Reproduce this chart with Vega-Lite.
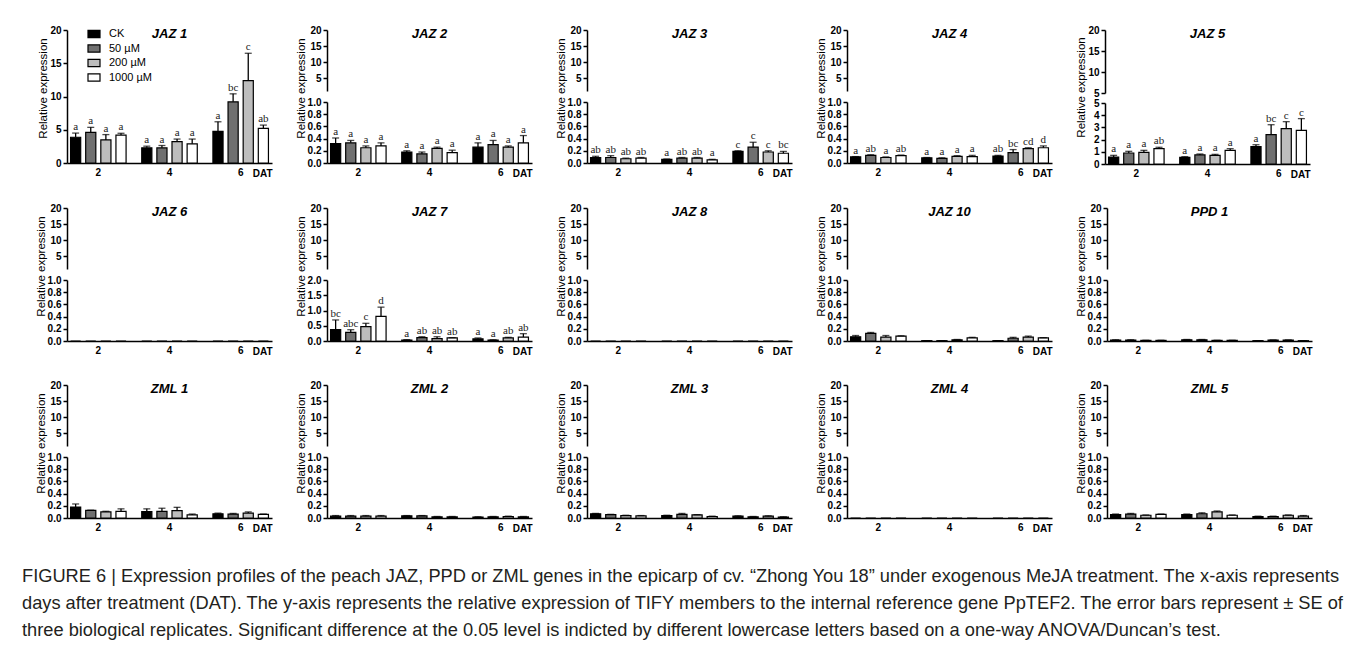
{
"$schema": "https://vega.github.io/schema/vega-lite/v6.json",
"background": "white",
"padding": {"left": 22, "top": 25, "right": 5, "bottom": 5},
"datasets": {"expr": [
{"g":"JAZ1","d":"2","t":"CK","m":3.87,"h":4.5,"l":"a"},{"g":"JAZ1","d":"2","t":"50 µM","m":4.6,"h":5.36,"l":"a"},{"g":"JAZ1","d":"2","t":"200 µM","m":3.47,"h":4.27,"l":"a"},{"g":"JAZ1","d":"2","t":"1000 µM","m":4.2,"h":4.47,"l":"a"},
{"g":"JAZ1","d":"4","t":"CK","m":2.28,"h":2.53,"l":"a"},{"g":"JAZ1","d":"4","t":"50 µM","m":2.28,"h":2.63,"l":"a"},{"g":"JAZ1","d":"4","t":"200 µM","m":3.2,"h":3.6,"l":"a"},{"g":"JAZ1","d":"4","t":"1000 µM","m":2.88,"h":3.6,"l":"a"},
{"g":"JAZ1","d":"6","t":"CK","m":4.76,"h":6.2,"l":"a"},{"g":"JAZ1","d":"6","t":"50 µM","m":9.2,"h":10.4,"l":"bc"},{"g":"JAZ1","d":"6","t":"200 µM","m":12.4,"h":16.5,"l":"c"},{"g":"JAZ1","d":"6","t":"1000 µM","m":5.2,"h":5.7,"l":"ab"},
{"g":"JAZ2","d":"2","t":"CK","m":0.32,"h":0.41,"l":"a"},{"g":"JAZ2","d":"2","t":"50 µM","m":0.33,"h":0.37,"l":"a"},{"g":"JAZ2","d":"2","t":"200 µM","m":0.25,"h":0.28,"l":"a"},{"g":"JAZ2","d":"2","t":"1000 µM","m":0.28,"h":0.33,"l":"a"},
{"g":"JAZ2","d":"4","t":"CK","m":0.18,"h":0.2,"l":"a"},{"g":"JAZ2","d":"4","t":"50 µM","m":0.15,"h":0.18,"l":"a"},{"g":"JAZ2","d":"4","t":"200 µM","m":0.24,"h":0.26,"l":"a"},{"g":"JAZ2","d":"4","t":"1000 µM","m":0.17,"h":0.21,"l":"a"},
{"g":"JAZ2","d":"6","t":"CK","m":0.26,"h":0.33,"l":"a"},{"g":"JAZ2","d":"6","t":"50 µM","m":0.3,"h":0.37,"l":"a"},{"g":"JAZ2","d":"6","t":"200 µM","m":0.26,"h":0.28,"l":"a"},{"g":"JAZ2","d":"6","t":"1000 µM","m":0.33,"h":0.45,"l":"a"},
{"g":"JAZ3","d":"2","t":"CK","m":0.09,"h":0.11,"l":"ab"},{"g":"JAZ3","d":"2","t":"50 µM","m":0.09,"h":0.12,"l":"ab"},{"g":"JAZ3","d":"2","t":"200 µM","m":0.07,"h":0.08,"l":"ab"},{"g":"JAZ3","d":"2","t":"1000 µM","m":0.08,"h":0.09,"l":"ab"},
{"g":"JAZ3","d":"4","t":"CK","m":0.06,"h":0.065,"l":"a"},{"g":"JAZ3","d":"4","t":"50 µM","m":0.08,"h":0.09,"l":"ab"},{"g":"JAZ3","d":"4","t":"200 µM","m":0.08,"h":0.09,"l":"ab"},{"g":"JAZ3","d":"4","t":"1000 µM","m":0.05,"h":0.06,"l":"a"},
{"g":"JAZ3","d":"6","t":"CK","m":0.19,"h":0.2,"l":"c"},{"g":"JAZ3","d":"6","t":"50 µM","m":0.26,"h":0.34,"l":"c"},{"g":"JAZ3","d":"6","t":"200 µM","m":0.18,"h":0.2,"l":"c"},{"g":"JAZ3","d":"6","t":"1000 µM","m":0.16,"h":0.19,"l":"bc"},
{"g":"JAZ4","d":"2","t":"CK","m":0.1,"h":0.105,"l":"a"},{"g":"JAZ4","d":"2","t":"50 µM","m":0.125,"h":0.135,"l":"ab"},{"g":"JAZ4","d":"2","t":"200 µM","m":0.09,"h":0.1,"l":"a"},{"g":"JAZ4","d":"2","t":"1000 µM","m":0.12,"h":0.13,"l":"ab"},
{"g":"JAZ4","d":"4","t":"CK","m":0.085,"h":0.09,"l":"a"},{"g":"JAZ4","d":"4","t":"50 µM","m":0.075,"h":0.085,"l":"a"},{"g":"JAZ4","d":"4","t":"200 µM","m":0.11,"h":0.12,"l":"a"},{"g":"JAZ4","d":"4","t":"1000 µM","m":0.105,"h":0.125,"l":"a"},
{"g":"JAZ4","d":"6","t":"CK","m":0.115,"h":0.125,"l":"ab"},{"g":"JAZ4","d":"6","t":"50 µM","m":0.17,"h":0.22,"l":"bc"},{"g":"JAZ4","d":"6","t":"200 µM","m":0.235,"h":0.25,"l":"cd"},{"g":"JAZ4","d":"6","t":"1000 µM","m":0.25,"h":0.28,"l":"d"},
{"g":"JAZ5","d":"2","t":"CK","m":0.57,"h":0.71,"l":"a"},{"g":"JAZ5","d":"2","t":"50 µM","m":0.9,"h":1.04,"l":"a"},{"g":"JAZ5","d":"2","t":"200 µM","m":0.96,"h":1.12,"l":"a"},{"g":"JAZ5","d":"2","t":"1000 µM","m":1.26,"h":1.37,"l":"ab"},
{"g":"JAZ5","d":"4","t":"CK","m":0.55,"h":0.6,"l":"a"},{"g":"JAZ5","d":"4","t":"50 µM","m":0.74,"h":0.82,"l":"a"},{"g":"JAZ5","d":"4","t":"200 µM","m":0.71,"h":0.79,"l":"a"},{"g":"JAZ5","d":"4","t":"1000 µM","m":1.12,"h":1.26,"l":"a"},
{"g":"JAZ5","d":"6","t":"CK","m":1.42,"h":1.58,"l":"a"},{"g":"JAZ5","d":"6","t":"50 µM","m":2.4,"h":3.22,"l":"bc"},{"g":"JAZ5","d":"6","t":"200 µM","m":2.9,"h":3.47,"l":"c"},{"g":"JAZ5","d":"6","t":"1000 µM","m":2.76,"h":3.72,"l":"c"},
{"g":"JAZ6","d":"2","t":"CK","m":0,"h":0},{"g":"JAZ6","d":"2","t":"50 µM","m":0,"h":0},{"g":"JAZ6","d":"2","t":"200 µM","m":0,"h":0},{"g":"JAZ6","d":"2","t":"1000 µM","m":0,"h":0},
{"g":"JAZ6","d":"4","t":"CK","m":0,"h":0},{"g":"JAZ6","d":"4","t":"50 µM","m":0,"h":0},{"g":"JAZ6","d":"4","t":"200 µM","m":0,"h":0},{"g":"JAZ6","d":"4","t":"1000 µM","m":0,"h":0},
{"g":"JAZ6","d":"6","t":"CK","m":0,"h":0},{"g":"JAZ6","d":"6","t":"50 µM","m":0,"h":0},{"g":"JAZ6","d":"6","t":"200 µM","m":0,"h":0},{"g":"JAZ6","d":"6","t":"1000 µM","m":0,"h":0},
{"g":"JAZ7","d":"2","t":"CK","m":0.37,"h":0.69,"l":"bc"},{"g":"JAZ7","d":"2","t":"50 µM","m":0.28,"h":0.37,"l":"abc"},{"g":"JAZ7","d":"2","t":"200 µM","m":0.47,"h":0.58,"l":"c"},{"g":"JAZ7","d":"2","t":"1000 µM","m":0.81,"h":1.11,"l":"d"},
{"g":"JAZ7","d":"4","t":"CK","m":0.03,"h":0.045,"l":"a"},{"g":"JAZ7","d":"4","t":"50 µM","m":0.11,"h":0.14,"l":"ab"},{"g":"JAZ7","d":"4","t":"200 µM","m":0.08,"h":0.14,"l":"ab"},{"g":"JAZ7","d":"4","t":"1000 µM","m":0.1,"h":0.11,"l":"ab"},
{"g":"JAZ7","d":"6","t":"CK","m":0.07,"h":0.1,"l":"a"},{"g":"JAZ7","d":"6","t":"50 µM","m":0.03,"h":0.04,"l":"a"},{"g":"JAZ7","d":"6","t":"200 µM","m":0.1,"h":0.12,"l":"ab"},{"g":"JAZ7","d":"6","t":"1000 µM","m":0.13,"h":0.24,"l":"ab"},
{"g":"JAZ8","d":"2","t":"CK","m":0,"h":0},{"g":"JAZ8","d":"2","t":"50 µM","m":0,"h":0},{"g":"JAZ8","d":"2","t":"200 µM","m":0,"h":0},{"g":"JAZ8","d":"2","t":"1000 µM","m":0,"h":0},
{"g":"JAZ8","d":"4","t":"CK","m":0,"h":0},{"g":"JAZ8","d":"4","t":"50 µM","m":0,"h":0},{"g":"JAZ8","d":"4","t":"200 µM","m":0,"h":0},{"g":"JAZ8","d":"4","t":"1000 µM","m":0,"h":0},
{"g":"JAZ8","d":"6","t":"CK","m":0,"h":0},{"g":"JAZ8","d":"6","t":"50 µM","m":0,"h":0},{"g":"JAZ8","d":"6","t":"200 µM","m":0,"h":0},{"g":"JAZ8","d":"6","t":"1000 µM","m":0,"h":0},
{"g":"JAZ10","d":"2","t":"CK","m":0.07,"h":0.09},{"g":"JAZ10","d":"2","t":"50 µM","m":0.125,"h":0.14},{"g":"JAZ10","d":"2","t":"200 µM","m":0.065,"h":0.09},{"g":"JAZ10","d":"2","t":"1000 µM","m":0.08,"h":0.085},
{"g":"JAZ10","d":"4","t":"CK","m":0.005,"h":0.006},{"g":"JAZ10","d":"4","t":"50 µM","m":0.005,"h":0.006},{"g":"JAZ10","d":"4","t":"200 µM","m":0.02,"h":0.025},{"g":"JAZ10","d":"4","t":"1000 µM","m":0.05,"h":0.06},
{"g":"JAZ10","d":"6","t":"CK","m":0.005,"h":0.006},{"g":"JAZ10","d":"6","t":"50 µM","m":0.045,"h":0.06},{"g":"JAZ10","d":"6","t":"200 µM","m":0.065,"h":0.08},{"g":"JAZ10","d":"6","t":"1000 µM","m":0.05,"h":0.055},
{"g":"PPD1","d":"2","t":"CK","m":0.015,"h":0.02},{"g":"PPD1","d":"2","t":"50 µM","m":0.015,"h":0.02},{"g":"PPD1","d":"2","t":"200 µM","m":0.01,"h":0.012},{"g":"PPD1","d":"2","t":"1000 µM","m":0.01,"h":0.012},
{"g":"PPD1","d":"4","t":"CK","m":0.02,"h":0.025},{"g":"PPD1","d":"4","t":"50 µM","m":0.02,"h":0.025},{"g":"PPD1","d":"4","t":"200 µM","m":0.01,"h":0.012},{"g":"PPD1","d":"4","t":"1000 µM","m":0.01,"h":0.012},
{"g":"PPD1","d":"6","t":"CK","m":0.005,"h":0.006},{"g":"PPD1","d":"6","t":"50 µM","m":0.015,"h":0.018},{"g":"PPD1","d":"6","t":"200 µM","m":0.015,"h":0.018},{"g":"PPD1","d":"6","t":"1000 µM","m":0.005,"h":0.006},
{"g":"ZML1","d":"2","t":"CK","m":0.18,"h":0.23},{"g":"ZML1","d":"2","t":"50 µM","m":0.125,"h":0.128},{"g":"ZML1","d":"2","t":"200 µM","m":0.1,"h":0.11},{"g":"ZML1","d":"2","t":"1000 µM","m":0.11,"h":0.15},
{"g":"ZML1","d":"4","t":"CK","m":0.105,"h":0.15},{"g":"ZML1","d":"4","t":"50 µM","m":0.11,"h":0.16},{"g":"ZML1","d":"4","t":"200 µM","m":0.12,"h":0.175},{"g":"ZML1","d":"4","t":"1000 µM","m":0.05,"h":0.065},
{"g":"ZML1","d":"6","t":"CK","m":0.07,"h":0.08},{"g":"ZML1","d":"6","t":"50 µM","m":0.065,"h":0.075},{"g":"ZML1","d":"6","t":"200 µM","m":0.08,"h":0.1},{"g":"ZML1","d":"6","t":"1000 µM","m":0.06,"h":0.065},
{"g":"ZML2","d":"2","t":"CK","m":0.03,"h":0.04},{"g":"ZML2","d":"2","t":"50 µM","m":0.03,"h":0.04},{"g":"ZML2","d":"2","t":"200 µM","m":0.03,"h":0.04},{"g":"ZML2","d":"2","t":"1000 µM","m":0.03,"h":0.04},
{"g":"ZML2","d":"4","t":"CK","m":0.035,"h":0.04},{"g":"ZML2","d":"4","t":"50 µM","m":0.035,"h":0.04},{"g":"ZML2","d":"4","t":"200 µM","m":0.02,"h":0.025},{"g":"ZML2","d":"4","t":"1000 µM","m":0.02,"h":0.025},
{"g":"ZML2","d":"6","t":"CK","m":0.015,"h":0.02},{"g":"ZML2","d":"6","t":"50 µM","m":0.02,"h":0.025},{"g":"ZML2","d":"6","t":"200 µM","m":0.025,"h":0.03},{"g":"ZML2","d":"6","t":"1000 µM","m":0.02,"h":0.025},
{"g":"ZML3","d":"2","t":"CK","m":0.07,"h":0.075},{"g":"ZML3","d":"2","t":"50 µM","m":0.055,"h":0.06},{"g":"ZML3","d":"2","t":"200 µM","m":0.04,"h":0.045},{"g":"ZML3","d":"2","t":"1000 µM","m":0.035,"h":0.04},
{"g":"ZML3","d":"4","t":"CK","m":0.04,"h":0.045},{"g":"ZML3","d":"4","t":"50 µM","m":0.06,"h":0.075},{"g":"ZML3","d":"4","t":"200 µM","m":0.05,"h":0.055},{"g":"ZML3","d":"4","t":"1000 µM","m":0.025,"h":0.03},
{"g":"ZML3","d":"6","t":"CK","m":0.03,"h":0.035},{"g":"ZML3","d":"6","t":"50 µM","m":0.02,"h":0.025},{"g":"ZML3","d":"6","t":"200 µM","m":0.03,"h":0.035},{"g":"ZML3","d":"6","t":"1000 µM","m":0.015,"h":0.02},
{"g":"ZML4","d":"2","t":"CK","m":0,"h":0},{"g":"ZML4","d":"2","t":"50 µM","m":0,"h":0},{"g":"ZML4","d":"2","t":"200 µM","m":0,"h":0},{"g":"ZML4","d":"2","t":"1000 µM","m":0,"h":0},
{"g":"ZML4","d":"4","t":"CK","m":0,"h":0},{"g":"ZML4","d":"4","t":"50 µM","m":0,"h":0},{"g":"ZML4","d":"4","t":"200 µM","m":0,"h":0},{"g":"ZML4","d":"4","t":"1000 µM","m":0,"h":0},
{"g":"ZML4","d":"6","t":"CK","m":0,"h":0},{"g":"ZML4","d":"6","t":"50 µM","m":0,"h":0},{"g":"ZML4","d":"6","t":"200 µM","m":0,"h":0},{"g":"ZML4","d":"6","t":"1000 µM","m":0,"h":0},
{"g":"ZML5","d":"2","t":"CK","m":0.055,"h":0.065},{"g":"ZML5","d":"2","t":"50 µM","m":0.065,"h":0.075},{"g":"ZML5","d":"2","t":"200 µM","m":0.045,"h":0.05},{"g":"ZML5","d":"2","t":"1000 µM","m":0.06,"h":0.065},
{"g":"ZML5","d":"4","t":"CK","m":0.055,"h":0.065},{"g":"ZML5","d":"4","t":"50 µM","m":0.07,"h":0.085},{"g":"ZML5","d":"4","t":"200 µM","m":0.1,"h":0.115},{"g":"ZML5","d":"4","t":"1000 µM","m":0.045,"h":0.05},
{"g":"ZML5","d":"6","t":"CK","m":0.025,"h":0.03},{"g":"ZML5","d":"6","t":"50 µM","m":0.025,"h":0.03},{"g":"ZML5","d":"6","t":"200 µM","m":0.045,"h":0.05},{"g":"ZML5","d":"6","t":"1000 µM","m":0.03,"h":0.04}
]},
"title": {"text": ["FIGURE 6 | Expression profiles of the peach JAZ, PPD or ZML genes in the epicarp of cv. “Zhong You 18” under exogenous MeJA treatment. The x-axis represents", "days after treatment (DAT). The y-axis represents the relative expression of TIFY members to the internal reference gene PpTEF2. The error bars represent ± SE of", "three biological replicates. Significant difference at the 0.05 level is indicted by different lowercase letters based on a one-way ANOVA/Duncan’s test."], "orient": "bottom", "anchor": "start", "frame": "group", "font": "Liberation Sans", "fontSize": 18.25, "fontStyle": "normal", "fontWeight": "normal", "color": "#231f20", "lineHeight": 27, "offset": 35, "dx": -45},
"config": {
 "font": "Liberation Sans",
 "view": {"stroke": null},
 "axis": {"grid": false, "domainColor": "#000", "domainWidth": 1.5, "tickColor": "#000", "tickWidth": 1.5, "tickSize": 4, "labelFont": "Liberation Sans", "labelFontWeight": "bold", "labelFontSize": 10, "labelColor": "#000", "labelPadding": 2, "titleFont": "Liberation Sans", "titleFontWeight": "normal", "titleFontSize": 11.5, "titleColor": "#000", "titlePadding": 1},
 "axisX": {"ticks": false, "labelAngle": 0, "labelDx": -6, "labelPadding": 4, "titleAngle": 0, "titleAlign": "right", "titleBaseline": "middle", "titleX": 205, "titleY": 10, "titleFontWeight": "bold", "titleFontSize": 10},
 "axisY": {"titleY": -14},
 "title": {"font": "Liberation Sans", "fontStyle": "italic", "fontWeight": "bold", "fontSize": 13, "color": "#000", "offset": -16},
 "bar": {"stroke": "#000", "strokeWidth": 1.2}
},
"spacing": 24,
"vconcat": [
{"spacing": 23, "hconcat": [
 {"data": {"name": "expr"}, "transform": [{"filter": "datum.g=='JAZ1'"}], "width": 205, "height": 133, "title": "JAZ 1",
  "encoding": {"x": {"field":"d","type":"nominal","scale":{"domain":["2","4","6"],"paddingInner":0.22,"paddingOuter":0.05},"title":"DAT"}, "xOffset": {"field":"t","type":"nominal","scale":{"domain":["CK","50 µM","200 µM","1000 µM"],"paddingInner":0.33}}, "y": {"field":"m","type":"quantitative","scale":{"domain":[0,20]},"axis":{"values":[0,5,10,15,20],"title":"Relative expression","titleY":58}}},
  "layer": [
   {"mark": "bar", "encoding": {"color": {"field":"t","type":"nominal","scale":{"domain":["CK","50 µM","200 µM","1000 µM"],"range":["#000000","#707070","#bdbdbd","#ffffff"]},"legend":{"orient":"none","legendX":20,"legendY":-3,"title":null,"symbolType":"M-1,-0.6H1V0.6H-1Z","symbolSize":144,"symbolStrokeColor":"#000","symbolStrokeWidth":1,"labelFont":"Liberation Sans","labelFontSize":11,"labelFontWeight":"normal","labelColor":"#000","rowPadding":1.5,"labelOffset":8}}}},
   {"mark": {"type":"rule","color":"#000","strokeWidth":1.3}, "encoding": {"y2": {"field":"h"}}},
   {"mark": {"type":"tick","color":"#000","size":7,"thickness":1.3}, "encoding": {"y": {"field":"h","type":"quantitative"}}},
   {"mark": {"type":"text","color":"#222","font":"Liberation Serif","fontSize":11,"baseline":"bottom","dy":-1}, "encoding": {"y": {"field":"h","type":"quantitative"},"text":{"field":"l"}}}
  ]},
 {"data": {"name": "expr"}, "transform": [{"filter": "datum.g=='JAZ2'"}], "bounds": "flush", "spacing": 11, "vconcat": [
  {"width": 205, "height": 61, "title": "JAZ 2", "mark": {"type":"bar","clip":true,"strokeWidth":0}, "encoding": {"x": {"field":"d","type":"nominal","scale":{"domain":["2","4","6"],"paddingInner":0.22,"paddingOuter":0.05},"axis":null}, "xOffset": {"field":"t","type":"nominal","scale":{"domain":["CK","50 µM","200 µM","1000 µM"],"paddingInner":0.33}}, "y": {"field":"m","type":"quantitative","scale":{"domain":[1,20]},"axis":{"values":[5,10,15,20],"title":null}}, "fill": {"field":"t","type":"nominal","scale":{"domain":["CK","50 µM","200 µM","1000 µM"],"range":["#000000","#707070","#bdbdbd","#ffffff"]},"legend":null}}},
  {"width": 205, "height": 61, "encoding": {"x": {"field":"d","type":"nominal","scale":{"domain":["2","4","6"],"paddingInner":0.22,"paddingOuter":0.05},"title":"DAT"}, "xOffset": {"field":"t","type":"nominal","scale":{"domain":["CK","50 µM","200 µM","1000 µM"],"paddingInner":0.33}}, "y": {"field":"m","type":"quantitative","scale":{"domain":[0,1]},"axis":{"values":[0,0.2,0.4,0.6,0.8,1],"format":".1f","title":"Relative expression"}}},
   "layer": [
    {"mark": "bar", "encoding": {"fill": {"field":"t","type":"nominal","scale":{"domain":["CK","50 µM","200 µM","1000 µM"],"range":["#000000","#707070","#bdbdbd","#ffffff"]},"legend":null}}},
    {"mark": {"type":"rule","color":"#000","strokeWidth":1.3}, "encoding": {"y2": {"field":"h"}}},
    {"mark": {"type":"tick","color":"#000","size":7,"thickness":1.3}, "encoding": {"y": {"field":"h","type":"quantitative"}}},
    {"mark": {"type":"text","color":"#222","font":"Liberation Serif","fontSize":11,"baseline":"bottom","dy":-1}, "encoding": {"y": {"field":"h","type":"quantitative"},"text":{"field":"l"}}}
   ]}
 ]},
 {"data": {"name": "expr"}, "transform": [{"filter": "datum.g=='JAZ3'"}], "bounds": "flush", "spacing": 11, "vconcat": [
  {"width": 205, "height": 61, "title": "JAZ 3", "mark": {"type":"bar","clip":true,"strokeWidth":0}, "encoding": {"x": {"field":"d","type":"nominal","scale":{"domain":["2","4","6"],"paddingInner":0.22,"paddingOuter":0.05},"axis":null}, "xOffset": {"field":"t","type":"nominal","scale":{"domain":["CK","50 µM","200 µM","1000 µM"],"paddingInner":0.33}}, "y": {"field":"m","type":"quantitative","scale":{"domain":[1,20]},"axis":{"values":[5,10,15,20],"title":null}}, "fill": {"field":"t","type":"nominal","scale":{"domain":["CK","50 µM","200 µM","1000 µM"],"range":["#000000","#707070","#bdbdbd","#ffffff"]},"legend":null}}},
  {"width": 205, "height": 61, "encoding": {"x": {"field":"d","type":"nominal","scale":{"domain":["2","4","6"],"paddingInner":0.22,"paddingOuter":0.05},"title":"DAT"}, "xOffset": {"field":"t","type":"nominal","scale":{"domain":["CK","50 µM","200 µM","1000 µM"],"paddingInner":0.33}}, "y": {"field":"m","type":"quantitative","scale":{"domain":[0,1]},"axis":{"values":[0,0.2,0.4,0.6,0.8,1],"format":".1f","title":"Relative expression"}}},
   "layer": [
    {"mark": "bar", "encoding": {"fill": {"field":"t","type":"nominal","scale":{"domain":["CK","50 µM","200 µM","1000 µM"],"range":["#000000","#707070","#bdbdbd","#ffffff"]},"legend":null}}},
    {"mark": {"type":"rule","color":"#000","strokeWidth":1.3}, "encoding": {"y2": {"field":"h"}}},
    {"mark": {"type":"tick","color":"#000","size":7,"thickness":1.3}, "encoding": {"y": {"field":"h","type":"quantitative"}}},
    {"mark": {"type":"text","color":"#222","font":"Liberation Serif","fontSize":11,"baseline":"bottom","dy":-1}, "encoding": {"y": {"field":"h","type":"quantitative"},"text":{"field":"l"}}}
   ]}
 ]},
 {"data": {"name": "expr"}, "transform": [{"filter": "datum.g=='JAZ4'"}], "bounds": "flush", "spacing": 11, "vconcat": [
  {"width": 205, "height": 61, "title": "JAZ 4", "mark": {"type":"bar","clip":true,"strokeWidth":0}, "encoding": {"x": {"field":"d","type":"nominal","scale":{"domain":["2","4","6"],"paddingInner":0.22,"paddingOuter":0.05},"axis":null}, "xOffset": {"field":"t","type":"nominal","scale":{"domain":["CK","50 µM","200 µM","1000 µM"],"paddingInner":0.33}}, "y": {"field":"m","type":"quantitative","scale":{"domain":[1,20]},"axis":{"values":[5,10,15,20],"title":null}}, "fill": {"field":"t","type":"nominal","scale":{"domain":["CK","50 µM","200 µM","1000 µM"],"range":["#000000","#707070","#bdbdbd","#ffffff"]},"legend":null}}},
  {"width": 205, "height": 61, "encoding": {"x": {"field":"d","type":"nominal","scale":{"domain":["2","4","6"],"paddingInner":0.22,"paddingOuter":0.05},"title":"DAT"}, "xOffset": {"field":"t","type":"nominal","scale":{"domain":["CK","50 µM","200 µM","1000 µM"],"paddingInner":0.33}}, "y": {"field":"m","type":"quantitative","scale":{"domain":[0,1]},"axis":{"values":[0,0.2,0.4,0.6,0.8,1],"format":".1f","title":"Relative expression"}}},
   "layer": [
    {"mark": "bar", "encoding": {"fill": {"field":"t","type":"nominal","scale":{"domain":["CK","50 µM","200 µM","1000 µM"],"range":["#000000","#707070","#bdbdbd","#ffffff"]},"legend":null}}},
    {"mark": {"type":"rule","color":"#000","strokeWidth":1.3}, "encoding": {"y2": {"field":"h"}}},
    {"mark": {"type":"tick","color":"#000","size":7,"thickness":1.3}, "encoding": {"y": {"field":"h","type":"quantitative"}}},
    {"mark": {"type":"text","color":"#222","font":"Liberation Serif","fontSize":11,"baseline":"bottom","dy":-1}, "encoding": {"y": {"field":"h","type":"quantitative"},"text":{"field":"l"}}}
   ]}
 ]},
 {"data": {"name": "expr"}, "transform": [{"filter": "datum.g=='JAZ5'"}], "bounds": "flush", "spacing": 10, "vconcat": [
  {"width": 205, "height": 63, "title": "JAZ 5", "mark": {"type":"bar","clip":true,"strokeWidth":0}, "encoding": {"x": {"field":"d","type":"nominal","scale":{"domain":["2","4","6"],"paddingInner":0.22,"paddingOuter":0.05},"axis":null}, "xOffset": {"field":"t","type":"nominal","scale":{"domain":["CK","50 µM","200 µM","1000 µM"],"paddingInner":0.33}}, "y": {"field":"m","type":"quantitative","scale":{"domain":[5,20]},"axis":{"values":[5,10,15,20],"title":null}}, "fill": {"field":"t","type":"nominal","scale":{"domain":["CK","50 µM","200 µM","1000 µM"],"range":["#000000","#707070","#bdbdbd","#ffffff"]},"legend":null}}},
  {"width": 205, "height": 61, "encoding": {"x": {"field":"d","type":"nominal","scale":{"domain":["2","4","6"],"paddingInner":0.22,"paddingOuter":0.05},"title":"DAT"}, "xOffset": {"field":"t","type":"nominal","scale":{"domain":["CK","50 µM","200 µM","1000 µM"],"paddingInner":0.33}}, "y": {"field":"m","type":"quantitative","scale":{"domain":[0,5]},"axis":{"values":[0,1,2,3,4,5],"format":"d","title":"Relative expression","titleY":-16,"titlePadding":7}}},
   "layer": [
    {"mark": "bar", "encoding": {"fill": {"field":"t","type":"nominal","scale":{"domain":["CK","50 µM","200 µM","1000 µM"],"range":["#000000","#707070","#bdbdbd","#ffffff"]},"legend":null}}},
    {"mark": {"type":"rule","color":"#000","strokeWidth":1.3}, "encoding": {"y2": {"field":"h"}}},
    {"mark": {"type":"tick","color":"#000","size":7,"thickness":1.3}, "encoding": {"y": {"field":"h","type":"quantitative"}}},
    {"mark": {"type":"text","color":"#222","font":"Liberation Serif","fontSize":11,"baseline":"bottom","dy":-1}, "encoding": {"y": {"field":"h","type":"quantitative"},"text":{"field":"l"}}}
   ]}
 ]}
]},
{"spacing": 23, "hconcat": [
 {"data": {"name": "expr"}, "transform": [{"filter": "datum.g=='JAZ6'"}], "bounds": "flush", "spacing": 11, "vconcat": [
  {"width": 205, "height": 61, "title": "JAZ 6", "mark": {"type":"bar","clip":true,"strokeWidth":0}, "encoding": {"x": {"field":"d","type":"nominal","scale":{"domain":["2","4","6"],"paddingInner":0.22,"paddingOuter":0.05},"axis":null}, "xOffset": {"field":"t","type":"nominal","scale":{"domain":["CK","50 µM","200 µM","1000 µM"],"paddingInner":0.33}}, "y": {"field":"m","type":"quantitative","scale":{"domain":[1,20]},"axis":{"values":[5,10,15,20],"title":null}}, "fill": {"field":"t","type":"nominal","scale":{"domain":["CK","50 µM","200 µM","1000 µM"],"range":["#000000","#707070","#bdbdbd","#ffffff"]},"legend":null}}},
  {"width": 205, "height": 61, "mark": "bar", "encoding": {"x": {"field":"d","type":"nominal","scale":{"domain":["2","4","6"],"paddingInner":0.22,"paddingOuter":0.05},"title":"DAT"}, "xOffset": {"field":"t","type":"nominal","scale":{"domain":["CK","50 µM","200 µM","1000 µM"],"paddingInner":0.33}}, "y": {"field":"m","type":"quantitative","scale":{"domain":[0,1]},"axis":{"values":[0,0.2,0.4,0.6,0.8,1],"format":".1f","title":"Relative expression"}}, "fill": {"field":"t","type":"nominal","scale":{"domain":["CK","50 µM","200 µM","1000 µM"],"range":["#000000","#707070","#bdbdbd","#ffffff"]},"legend":null}}}
 ]},
 {"data": {"name": "expr"}, "transform": [{"filter": "datum.g=='JAZ7'"}], "bounds": "flush", "spacing": 11, "vconcat": [
  {"width": 205, "height": 61, "title": "JAZ 7", "mark": {"type":"bar","clip":true,"strokeWidth":0}, "encoding": {"x": {"field":"d","type":"nominal","scale":{"domain":["2","4","6"],"paddingInner":0.22,"paddingOuter":0.05},"axis":null}, "xOffset": {"field":"t","type":"nominal","scale":{"domain":["CK","50 µM","200 µM","1000 µM"],"paddingInner":0.33}}, "y": {"field":"m","type":"quantitative","scale":{"domain":[1,20]},"axis":{"values":[5,10,15,20],"title":null}}, "fill": {"field":"t","type":"nominal","scale":{"domain":["CK","50 µM","200 µM","1000 µM"],"range":["#000000","#707070","#bdbdbd","#ffffff"]},"legend":null}}},
  {"width": 205, "height": 61, "encoding": {"x": {"field":"d","type":"nominal","scale":{"domain":["2","4","6"],"paddingInner":0.22,"paddingOuter":0.05},"title":"DAT"}, "xOffset": {"field":"t","type":"nominal","scale":{"domain":["CK","50 µM","200 µM","1000 µM"],"paddingInner":0.33}}, "y": {"field":"m","type":"quantitative","scale":{"domain":[0,2]},"axis":{"values":[0,0.5,1,1.5,2],"format":".1f","title":"Relative expression"}}},
   "layer": [
    {"mark": "bar", "encoding": {"fill": {"field":"t","type":"nominal","scale":{"domain":["CK","50 µM","200 µM","1000 µM"],"range":["#000000","#707070","#bdbdbd","#ffffff"]},"legend":null}}},
    {"mark": {"type":"rule","color":"#000","strokeWidth":1.3}, "encoding": {"y2": {"field":"h"}}},
    {"mark": {"type":"tick","color":"#000","size":7,"thickness":1.3}, "encoding": {"y": {"field":"h","type":"quantitative"}}},
    {"mark": {"type":"text","color":"#222","font":"Liberation Serif","fontSize":11,"baseline":"bottom","dy":-1}, "encoding": {"y": {"field":"h","type":"quantitative"},"text":{"field":"l"}}}
   ]}
 ]},
 {"data": {"name": "expr"}, "transform": [{"filter": "datum.g=='JAZ8'"}], "bounds": "flush", "spacing": 11, "vconcat": [
  {"width": 205, "height": 61, "title": "JAZ 8", "mark": {"type":"bar","clip":true,"strokeWidth":0}, "encoding": {"x": {"field":"d","type":"nominal","scale":{"domain":["2","4","6"],"paddingInner":0.22,"paddingOuter":0.05},"axis":null}, "xOffset": {"field":"t","type":"nominal","scale":{"domain":["CK","50 µM","200 µM","1000 µM"],"paddingInner":0.33}}, "y": {"field":"m","type":"quantitative","scale":{"domain":[1,20]},"axis":{"values":[5,10,15,20],"title":null}}, "fill": {"field":"t","type":"nominal","scale":{"domain":["CK","50 µM","200 µM","1000 µM"],"range":["#000000","#707070","#bdbdbd","#ffffff"]},"legend":null}}},
  {"width": 205, "height": 61, "mark": "bar", "encoding": {"x": {"field":"d","type":"nominal","scale":{"domain":["2","4","6"],"paddingInner":0.22,"paddingOuter":0.05},"title":"DAT"}, "xOffset": {"field":"t","type":"nominal","scale":{"domain":["CK","50 µM","200 µM","1000 µM"],"paddingInner":0.33}}, "y": {"field":"m","type":"quantitative","scale":{"domain":[0,1]},"axis":{"values":[0,0.2,0.4,0.6,0.8,1],"format":".1f","title":"Relative expression"}}, "fill": {"field":"t","type":"nominal","scale":{"domain":["CK","50 µM","200 µM","1000 µM"],"range":["#000000","#707070","#bdbdbd","#ffffff"]},"legend":null}}}
 ]},
 {"data": {"name": "expr"}, "transform": [{"filter": "datum.g=='JAZ10'"}], "bounds": "flush", "spacing": 11, "vconcat": [
  {"width": 205, "height": 61, "title": "JAZ 10", "mark": {"type":"bar","clip":true,"strokeWidth":0}, "encoding": {"x": {"field":"d","type":"nominal","scale":{"domain":["2","4","6"],"paddingInner":0.22,"paddingOuter":0.05},"axis":null}, "xOffset": {"field":"t","type":"nominal","scale":{"domain":["CK","50 µM","200 µM","1000 µM"],"paddingInner":0.33}}, "y": {"field":"m","type":"quantitative","scale":{"domain":[1,20]},"axis":{"values":[5,10,15,20],"title":null}}, "fill": {"field":"t","type":"nominal","scale":{"domain":["CK","50 µM","200 µM","1000 µM"],"range":["#000000","#707070","#bdbdbd","#ffffff"]},"legend":null}}},
  {"width": 205, "height": 61, "encoding": {"x": {"field":"d","type":"nominal","scale":{"domain":["2","4","6"],"paddingInner":0.22,"paddingOuter":0.05},"title":"DAT"}, "xOffset": {"field":"t","type":"nominal","scale":{"domain":["CK","50 µM","200 µM","1000 µM"],"paddingInner":0.33}}, "y": {"field":"m","type":"quantitative","scale":{"domain":[0,1]},"axis":{"values":[0,0.2,0.4,0.6,0.8,1],"format":".1f","title":"Relative expression"}}},
   "layer": [
    {"mark": "bar", "encoding": {"fill": {"field":"t","type":"nominal","scale":{"domain":["CK","50 µM","200 µM","1000 µM"],"range":["#000000","#707070","#bdbdbd","#ffffff"]},"legend":null}}},
    {"mark": {"type":"rule","color":"#000","strokeWidth":1.3}, "encoding": {"y2": {"field":"h"}}},
    {"mark": {"type":"tick","color":"#000","size":7,"thickness":1.3}, "encoding": {"y": {"field":"h","type":"quantitative"}}}
   ]}
 ]},
 {"data": {"name": "expr"}, "transform": [{"filter": "datum.g=='PPD1'"}], "bounds": "flush", "spacing": 11, "vconcat": [
  {"width": 205, "height": 61, "title": "PPD 1", "mark": {"type":"bar","clip":true,"strokeWidth":0}, "encoding": {"x": {"field":"d","type":"nominal","scale":{"domain":["2","4","6"],"paddingInner":0.22,"paddingOuter":0.05},"axis":null}, "xOffset": {"field":"t","type":"nominal","scale":{"domain":["CK","50 µM","200 µM","1000 µM"],"paddingInner":0.33}}, "y": {"field":"m","type":"quantitative","scale":{"domain":[1,20]},"axis":{"values":[5,10,15,20],"title":null}}, "fill": {"field":"t","type":"nominal","scale":{"domain":["CK","50 µM","200 µM","1000 µM"],"range":["#000000","#707070","#bdbdbd","#ffffff"]},"legend":null}}},
  {"width": 205, "height": 61, "encoding": {"x": {"field":"d","type":"nominal","scale":{"domain":["2","4","6"],"paddingInner":0.22,"paddingOuter":0.05},"title":"DAT"}, "xOffset": {"field":"t","type":"nominal","scale":{"domain":["CK","50 µM","200 µM","1000 µM"],"paddingInner":0.33}}, "y": {"field":"m","type":"quantitative","scale":{"domain":[0,1]},"axis":{"values":[0,0.2,0.4,0.6,0.8,1],"format":".1f","title":"Relative expression"}}},
   "layer": [
    {"mark": "bar", "encoding": {"fill": {"field":"t","type":"nominal","scale":{"domain":["CK","50 µM","200 µM","1000 µM"],"range":["#000000","#707070","#bdbdbd","#ffffff"]},"legend":null}}},
    {"mark": {"type":"rule","color":"#000","strokeWidth":1.3}, "encoding": {"y2": {"field":"h"}}},
    {"mark": {"type":"tick","color":"#000","size":7,"thickness":1.3}, "encoding": {"y": {"field":"h","type":"quantitative"}}}
   ]}
 ]}
]},
{"spacing": 23, "hconcat": [
 {"data": {"name": "expr"}, "transform": [{"filter": "datum.g=='ZML1'"}], "bounds": "flush", "spacing": 11, "vconcat": [
  {"width": 205, "height": 61, "title": "ZML 1", "mark": {"type":"bar","clip":true,"strokeWidth":0}, "encoding": {"x": {"field":"d","type":"nominal","scale":{"domain":["2","4","6"],"paddingInner":0.22,"paddingOuter":0.05},"axis":null}, "xOffset": {"field":"t","type":"nominal","scale":{"domain":["CK","50 µM","200 µM","1000 µM"],"paddingInner":0.33}}, "y": {"field":"m","type":"quantitative","scale":{"domain":[1,20]},"axis":{"values":[5,10,15,20],"title":null}}, "fill": {"field":"t","type":"nominal","scale":{"domain":["CK","50 µM","200 µM","1000 µM"],"range":["#000000","#707070","#bdbdbd","#ffffff"]},"legend":null}}},
  {"width": 205, "height": 61, "encoding": {"x": {"field":"d","type":"nominal","scale":{"domain":["2","4","6"],"paddingInner":0.22,"paddingOuter":0.05},"title":"DAT"}, "xOffset": {"field":"t","type":"nominal","scale":{"domain":["CK","50 µM","200 µM","1000 µM"],"paddingInner":0.33}}, "y": {"field":"m","type":"quantitative","scale":{"domain":[0,1]},"axis":{"values":[0,0.2,0.4,0.6,0.8,1],"format":".1f","title":"Relative expression"}}},
   "layer": [
    {"mark": "bar", "encoding": {"fill": {"field":"t","type":"nominal","scale":{"domain":["CK","50 µM","200 µM","1000 µM"],"range":["#000000","#707070","#bdbdbd","#ffffff"]},"legend":null}}},
    {"mark": {"type":"rule","color":"#000","strokeWidth":1.3}, "encoding": {"y2": {"field":"h"}}},
    {"mark": {"type":"tick","color":"#000","size":7,"thickness":1.3}, "encoding": {"y": {"field":"h","type":"quantitative"}}}
   ]}
 ]},
 {"data": {"name": "expr"}, "transform": [{"filter": "datum.g=='ZML2'"}], "bounds": "flush", "spacing": 11, "vconcat": [
  {"width": 205, "height": 61, "title": "ZML 2", "mark": {"type":"bar","clip":true,"strokeWidth":0}, "encoding": {"x": {"field":"d","type":"nominal","scale":{"domain":["2","4","6"],"paddingInner":0.22,"paddingOuter":0.05},"axis":null}, "xOffset": {"field":"t","type":"nominal","scale":{"domain":["CK","50 µM","200 µM","1000 µM"],"paddingInner":0.33}}, "y": {"field":"m","type":"quantitative","scale":{"domain":[1,20]},"axis":{"values":[5,10,15,20],"title":null}}, "fill": {"field":"t","type":"nominal","scale":{"domain":["CK","50 µM","200 µM","1000 µM"],"range":["#000000","#707070","#bdbdbd","#ffffff"]},"legend":null}}},
  {"width": 205, "height": 61, "encoding": {"x": {"field":"d","type":"nominal","scale":{"domain":["2","4","6"],"paddingInner":0.22,"paddingOuter":0.05},"title":"DAT"}, "xOffset": {"field":"t","type":"nominal","scale":{"domain":["CK","50 µM","200 µM","1000 µM"],"paddingInner":0.33}}, "y": {"field":"m","type":"quantitative","scale":{"domain":[0,1]},"axis":{"values":[0,0.2,0.4,0.6,0.8,1],"format":".1f","title":"Relative expression"}}},
   "layer": [
    {"mark": "bar", "encoding": {"fill": {"field":"t","type":"nominal","scale":{"domain":["CK","50 µM","200 µM","1000 µM"],"range":["#000000","#707070","#bdbdbd","#ffffff"]},"legend":null}}},
    {"mark": {"type":"rule","color":"#000","strokeWidth":1.3}, "encoding": {"y2": {"field":"h"}}},
    {"mark": {"type":"tick","color":"#000","size":7,"thickness":1.3}, "encoding": {"y": {"field":"h","type":"quantitative"}}}
   ]}
 ]},
 {"data": {"name": "expr"}, "transform": [{"filter": "datum.g=='ZML3'"}], "bounds": "flush", "spacing": 11, "vconcat": [
  {"width": 205, "height": 61, "title": "ZML 3", "mark": {"type":"bar","clip":true,"strokeWidth":0}, "encoding": {"x": {"field":"d","type":"nominal","scale":{"domain":["2","4","6"],"paddingInner":0.22,"paddingOuter":0.05},"axis":null}, "xOffset": {"field":"t","type":"nominal","scale":{"domain":["CK","50 µM","200 µM","1000 µM"],"paddingInner":0.33}}, "y": {"field":"m","type":"quantitative","scale":{"domain":[1,20]},"axis":{"values":[5,10,15,20],"title":null}}, "fill": {"field":"t","type":"nominal","scale":{"domain":["CK","50 µM","200 µM","1000 µM"],"range":["#000000","#707070","#bdbdbd","#ffffff"]},"legend":null}}},
  {"width": 205, "height": 61, "encoding": {"x": {"field":"d","type":"nominal","scale":{"domain":["2","4","6"],"paddingInner":0.22,"paddingOuter":0.05},"title":"DAT"}, "xOffset": {"field":"t","type":"nominal","scale":{"domain":["CK","50 µM","200 µM","1000 µM"],"paddingInner":0.33}}, "y": {"field":"m","type":"quantitative","scale":{"domain":[0,1]},"axis":{"values":[0,0.2,0.4,0.6,0.8,1],"format":".1f","title":"Relative expression"}}},
   "layer": [
    {"mark": "bar", "encoding": {"fill": {"field":"t","type":"nominal","scale":{"domain":["CK","50 µM","200 µM","1000 µM"],"range":["#000000","#707070","#bdbdbd","#ffffff"]},"legend":null}}},
    {"mark": {"type":"rule","color":"#000","strokeWidth":1.3}, "encoding": {"y2": {"field":"h"}}},
    {"mark": {"type":"tick","color":"#000","size":7,"thickness":1.3}, "encoding": {"y": {"field":"h","type":"quantitative"}}}
   ]}
 ]},
 {"data": {"name": "expr"}, "transform": [{"filter": "datum.g=='ZML4'"}], "bounds": "flush", "spacing": 11, "vconcat": [
  {"width": 205, "height": 61, "title": "ZML 4", "mark": {"type":"bar","clip":true,"strokeWidth":0}, "encoding": {"x": {"field":"d","type":"nominal","scale":{"domain":["2","4","6"],"paddingInner":0.22,"paddingOuter":0.05},"axis":null}, "xOffset": {"field":"t","type":"nominal","scale":{"domain":["CK","50 µM","200 µM","1000 µM"],"paddingInner":0.33}}, "y": {"field":"m","type":"quantitative","scale":{"domain":[1,20]},"axis":{"values":[5,10,15,20],"title":null}}, "fill": {"field":"t","type":"nominal","scale":{"domain":["CK","50 µM","200 µM","1000 µM"],"range":["#000000","#707070","#bdbdbd","#ffffff"]},"legend":null}}},
  {"width": 205, "height": 61, "mark": "bar", "encoding": {"x": {"field":"d","type":"nominal","scale":{"domain":["2","4","6"],"paddingInner":0.22,"paddingOuter":0.05},"title":"DAT"}, "xOffset": {"field":"t","type":"nominal","scale":{"domain":["CK","50 µM","200 µM","1000 µM"],"paddingInner":0.33}}, "y": {"field":"m","type":"quantitative","scale":{"domain":[0,1]},"axis":{"values":[0,0.2,0.4,0.6,0.8,1],"format":".1f","title":"Relative expression"}}, "fill": {"field":"t","type":"nominal","scale":{"domain":["CK","50 µM","200 µM","1000 µM"],"range":["#000000","#707070","#bdbdbd","#ffffff"]},"legend":null}}}
 ]},
 {"data": {"name": "expr"}, "transform": [{"filter": "datum.g=='ZML5'"}], "bounds": "flush", "spacing": 11, "vconcat": [
  {"width": 205, "height": 61, "title": "ZML 5", "mark": {"type":"bar","clip":true,"strokeWidth":0}, "encoding": {"x": {"field":"d","type":"nominal","scale":{"domain":["2","4","6"],"paddingInner":0.22,"paddingOuter":0.05},"axis":null}, "xOffset": {"field":"t","type":"nominal","scale":{"domain":["CK","50 µM","200 µM","1000 µM"],"paddingInner":0.33}}, "y": {"field":"m","type":"quantitative","scale":{"domain":[1,20]},"axis":{"values":[5,10,15,20],"title":null}}, "fill": {"field":"t","type":"nominal","scale":{"domain":["CK","50 µM","200 µM","1000 µM"],"range":["#000000","#707070","#bdbdbd","#ffffff"]},"legend":null}}},
  {"width": 205, "height": 61, "encoding": {"x": {"field":"d","type":"nominal","scale":{"domain":["2","4","6"],"paddingInner":0.22,"paddingOuter":0.05},"title":"DAT"}, "xOffset": {"field":"t","type":"nominal","scale":{"domain":["CK","50 µM","200 µM","1000 µM"],"paddingInner":0.33}}, "y": {"field":"m","type":"quantitative","scale":{"domain":[0,1]},"axis":{"values":[0,0.2,0.4,0.6,0.8,1],"format":".1f","title":"Relative expression"}}},
   "layer": [
    {"mark": "bar", "encoding": {"fill": {"field":"t","type":"nominal","scale":{"domain":["CK","50 µM","200 µM","1000 µM"],"range":["#000000","#707070","#bdbdbd","#ffffff"]},"legend":null}}},
    {"mark": {"type":"rule","color":"#000","strokeWidth":1.3}, "encoding": {"y2": {"field":"h"}}},
    {"mark": {"type":"tick","color":"#000","size":7,"thickness":1.3}, "encoding": {"y": {"field":"h","type":"quantitative"}}}
   ]}
 ]}
]}
]
}
